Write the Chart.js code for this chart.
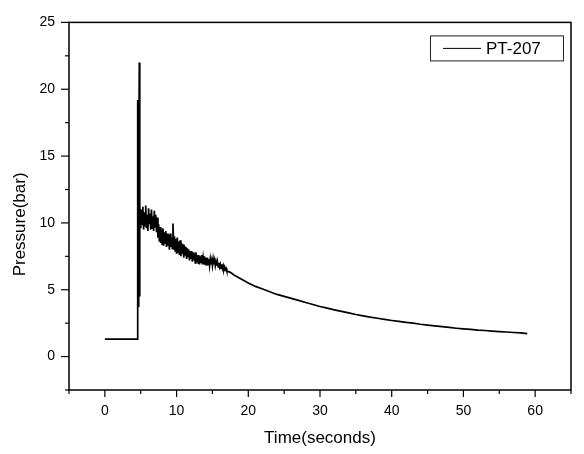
<!DOCTYPE html>
<html lang="en">
<head>
  <meta charset="UTF-8">
  <title>PT-207 Pressure vs Time</title>
  <script src="https://cdn.jsdelivr.net/npm/chart.js"></script>
  <style>
    html, body { margin: 0; padding: 0; background: #fff; }
  </style>
</head>
<body>
  <canvas id="pressure-chart" width="584" height="454"></canvas>

  <script>
    // values
    const seriesName = 'PT-207';
    const xTitle = 'Time(seconds)';
    const yTitle = 'Pressure(bar)';
    const xTickLabels = [0, 10, 20, 30, 40, 50, 60];
    const yTickLabels = [0, 5, 10, 15, 20, 25];

    const timeSec = [
      0, 4.55, 4.56, 4.60, 4.64, 4.68, 4.72, 4.76, 4.80, 4.83, 4.86, 4.88,
      4.9, 5.0, 5.1, 5.2, 5.3, 5.4, 5.5, 5.6, 5.7, 5.8, 5.9,
      6.0, 6.1, 6.2, 6.3, 6.4, 6.5, 6.6, 6.7, 6.8, 6.9,
      7.0, 7.1, 7.2, 7.3, 7.4, 7.5, 7.6, 7.7, 7.8, 7.9,
      8.0, 8.1, 8.2, 8.3, 8.4, 8.5, 8.6, 8.7, 8.8, 8.9,
      9.0, 9.1, 9.2, 9.3, 9.4, 9.5, 9.6, 9.7, 9.8, 9.9,
      10.0, 10.1, 10.2, 10.3, 10.4, 10.5, 10.6, 10.7, 10.8, 10.9,
      11.0, 11.1, 11.2, 11.3, 11.4, 11.5, 11.6, 11.7, 11.8, 11.9,
      12.0, 12.1, 12.2, 12.3, 12.4, 12.5, 12.6, 12.7, 12.8, 12.9,
      13.0, 13.1, 13.2, 13.3, 13.4, 13.5, 13.6, 13.7, 13.8, 13.9,
      14.0, 14.1, 14.2, 14.3, 14.4, 14.5, 14.6, 14.7, 14.8, 14.9,
      15.0, 15.1, 15.2, 15.3, 15.4, 15.5, 15.6, 15.7, 15.8, 15.9,
      16.0, 16.1, 16.2, 16.3, 16.4, 16.5, 16.6, 16.7, 16.8, 16.9,
      17.0,
      17.5, 18, 19, 20, 21, 22, 23, 24, 25, 26, 27, 28, 29, 30,
      31, 32, 33, 34, 35, 36, 37, 38, 39, 40, 41, 42, 43, 44, 45,
      46, 47, 48, 49, 50, 51, 52, 53, 54, 55, 56, 57, 58, 58.9
    ];

    const pressureBar = [
      1.3, 1.3, 3.6, 19.2, 4.2, 15.9, 3.7, 12.0, 22.0, 4.5, 13.5, 5.0,
      11.3, 9.6, 11.0, 9.9, 11.2, 9.5, 10.8, 9.8, 11.3, 9.6, 10.6,
      9.4, 11.1, 9.9, 10.7, 9.5, 11.0, 9.6, 10.5, 9.4, 10.9,
      9.7, 10.6, 9.3, 10.4, 8.9, 9.9, 8.6, 9.7, 8.5, 9.5,
      8.4, 9.6, 8.3, 9.3, 8.5, 9.4, 8.2, 9.2, 8.3, 9.1,
      8.0, 9.2, 8.2, 8.9, 8.1, 9.95, 8.0, 9.0, 7.9, 8.8,
      7.7, 8.9, 7.8, 8.6, 7.6, 8.7, 7.5, 8.5, 7.7, 8.4,
      7.4, 8.3, 7.6, 8.2, 7.3, 8.1, 7.5, 8.0, 7.2, 7.9,
      7.3, 7.9, 7.1, 7.8, 7.2, 7.7, 7.0, 7.8, 7.1, 7.6,
      7.0, 7.6, 6.9, 7.5, 7.0, 7.6, 6.9, 7.4, 6.9, 7.5,
      6.9, 7.4, 6.8, 7.4, 6.9, 7.3, 6.8, 7.3, 6.9, 7.2,
      6.8, 7.3, 6.9, 7.2, 6.8, 7.1, 6.8, 7.1, 6.7, 7.0,
      6.7, 6.9, 6.6, 6.9, 6.6, 6.8, 6.5, 6.7, 6.5, 6.6,
      6.4,
      6.3, 6.1, 5.8, 5.5, 5.25, 5.05, 4.85, 4.65, 4.5, 4.35, 4.2, 4.05, 3.9, 3.75,
      3.62, 3.5, 3.38, 3.27, 3.15, 3.05, 2.95, 2.87, 2.78, 2.7, 2.63, 2.56, 2.5, 2.42, 2.36,
      2.3, 2.24, 2.18, 2.12, 2.07, 2.03, 1.98, 1.95, 1.91, 1.87, 1.84, 1.8, 1.77, 1.72
    ];

    const fontFamily = "'Liberation Sans', Arial, sans-serif";

    // frame, tick marks (major + minor), y title and boxed legend
    const framePlugin = {
      id: 'frame',
      afterDraw(chart) {
        const { ctx, chartArea: a, scales } = chart;
        ctx.save();
        ctx.strokeStyle = '#000';
        ctx.lineWidth = 1.5;
        ctx.strokeRect(a.left, a.top, a.right - a.left, a.bottom - a.top);

        ctx.lineWidth = 1.2;
        scales.x.ticks.forEach(t => {
          const px = scales.x.getPixelForValue(t.value);
          const len = t.value % 10 === 0 ? 7 : 4;
          ctx.beginPath();
          ctx.moveTo(px, a.bottom);
          ctx.lineTo(px, a.bottom + len);
          ctx.stroke();
        });
        scales.y.ticks.forEach(t => {
          const py = scales.y.getPixelForValue(t.value);
          const len = t.value % 5 === 0 ? 8 : 4;
          ctx.beginPath();
          ctx.moveTo(a.left, py);
          ctx.lineTo(a.left - len, py);
          ctx.stroke();
        });

        // y axis title
        ctx.fillStyle = '#000';
        ctx.font = '17px ' + fontFamily;
        ctx.textAlign = 'center';
        ctx.textBaseline = 'middle';
        ctx.translate(20, a.top + 202);
        ctx.rotate(-Math.PI / 2);
        ctx.fillText(yTitle, 0, 0);
        ctx.restore();

        // legend box
        ctx.save();
        const bx = a.right - 141, by = a.top + 13, bw = 133, bh = 25;
        ctx.strokeStyle = '#222';
        ctx.lineWidth = 1;
        ctx.strokeRect(bx + 0.5, by + 0.5, bw, bh);
        ctx.strokeStyle = '#000';
        ctx.beginPath();
        ctx.moveTo(bx + 13, by + 13);
        ctx.lineTo(bx + 51, by + 13);
        ctx.stroke();
        ctx.fillStyle = '#000';
        ctx.font = '17px ' + fontFamily;
        ctx.textAlign = 'left';
        ctx.textBaseline = 'middle';
        ctx.fillText(seriesName, bx + 56, by + 14);
        ctx.restore();
      }
    };

    const points = timeSec.map((t, i) => ({ x: t, y: pressureBar[i] }));

    new Chart(document.getElementById('pressure-chart'), {
      type: 'line',
      data: {
        datasets: [{
          label: seriesName,
          data: points,
          borderColor: '#000',
          borderWidth: 1.7,
          pointRadius: 0,
          tension: 0,
          fill: false
        }]
      },
      options: {
        responsive: false,
        animation: false,
        layout: { padding: { left: 0, right: 8.5, top: 16, bottom: 0 } },
        plugins: { legend: { display: false }, tooltip: { enabled: false } },
        scales: {
          x: {
            type: 'linear',
            min: -5,
            max: 65,
            afterFit(s) { s.height = 64; },
            grid: { display: false, drawTicks: false },
            border: { display: false },
            ticks: {
              stepSize: 5,
              autoSkip: false,
              maxRotation: 0,
              padding: 13,
              color: '#000',
              font: { family: fontFamily, size: 14 },
              callback: v => xTickLabels.includes(v) ? String(v) : ''
            },
            title: {
              display: true,
              text: xTitle,
              color: '#000',
              font: { family: fontFamily, size: 17 },
              padding: { top: 0, bottom: 5 }
            }
          },
          y: {
            type: 'linear',
            min: -2.5,
            max: 25,
            afterFit(s) { s.width = 69; },
            grid: { display: false, drawTicks: false },
            border: { display: false },
            ticks: {
              stepSize: 2.5,
              autoSkip: false,
              padding: 14,
              color: '#000',
              font: { family: fontFamily, size: 14 },
              callback: v => yTickLabels.includes(v) ? String(v) : ''
            }
          }
        }
      },
      plugins: [framePlugin]
    });
  </script>
</body>
</html>
